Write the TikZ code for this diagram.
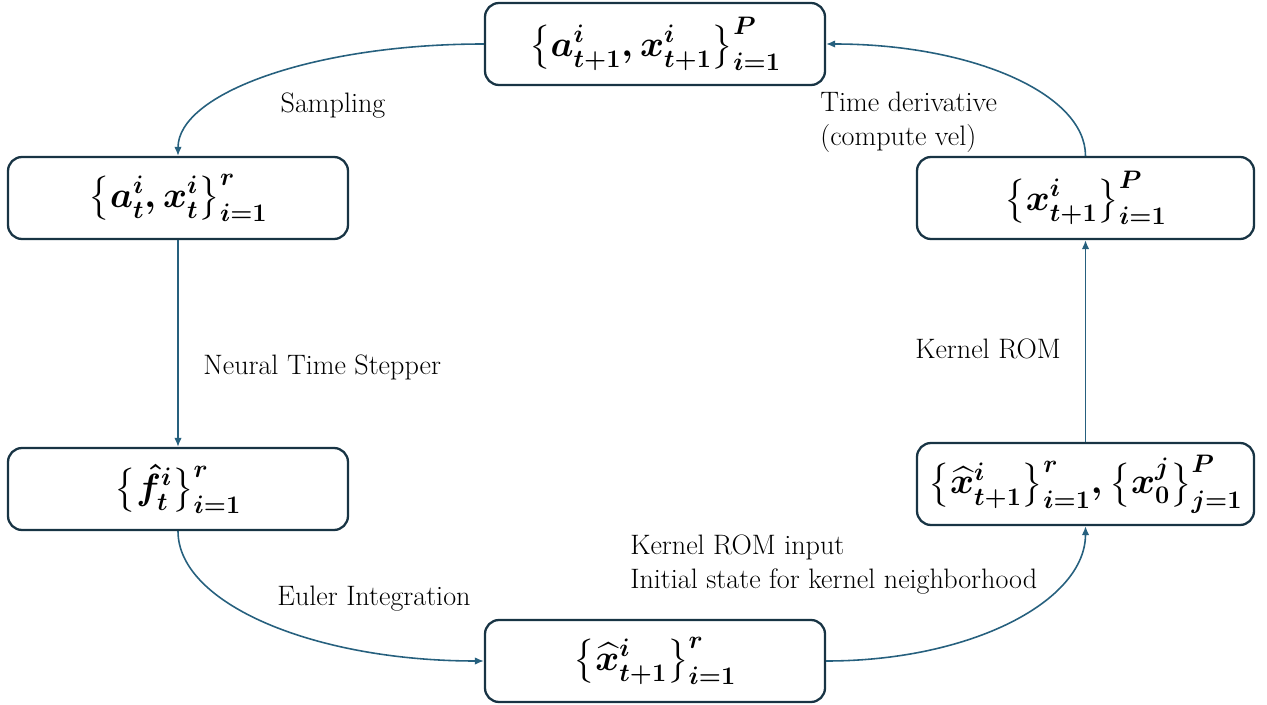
\documentclass[tikz,border=0pt]{standalone}
\usepackage{amssymb}
\usepackage{amsmath}
\usepackage{tikz}
\usetikzlibrary{arrows.meta}
\definecolor{boxline}{RGB}{24,52,68}
\definecolor{flowline}{RGB}{38,96,126}
\tikzstyle{state}=[draw=boxline, line width=1.3pt, rounded corners=8pt, minimum width=6.8cm, minimum height=1.64cm, font=\fontsize{21}{25}\selectfont\boldmath]
\tikzstyle{note}=[font=\fontsize{16}{19.5}\selectfont, align=left, inner sep=0pt]
\tikzstyle{arrow}=[draw=flowline, line width=0.9pt, -{Latex[length=1.8mm, width=1.5mm]}]

\begin{document}
\begin{tikzpicture}
		   \useasboundingbox (0, 0) rectangle (25.34, 14.08);
		   \begin{scope}
			   \node (1) at (13.1, 13.2)[state] {$\bigl\{a^{i}_{t+1}, x^{i}_{t+1}\bigr\}^{P}_{i=1}$};
			   \node (2) at (3.56, 10.12)[state] {$\bigl\{a^{i}_{t}, x^{i}_{t}\bigr\}^{r}_{i=1}$};
			   \node (3) at (3.56, 4.3)[state] {$\bigl\{\hat{f}^{i}_{t}\bigr\}^{r}_{i=1}$};
			   \node (4) at (13.1, 0.86)[state] {$\bigl\{\widehat{x}^{i}_{t+1}\bigr\}^{r}_{i=1}$};
			   \node (5) at (21.71, 4.4)[state, minimum width=6.74cm] {$\bigl\{\widehat{x}^{i}_{t+1}\bigr\}^{r}_{i=1}, \bigl\{x^{j}_{0}\bigr\}^{P}_{j=1}$};
			   \node (6) at (21.71, 10.12)[state, minimum width=6.74cm] {$\bigl\{x^{i}_{t+1}\bigr\}^{P}_{i=1}$};
		   \end{scope}
		   \begin{scope}
			   \node (s) at (6.66, 11.96)[note] {Sampling};
			   \node (n) at (4.06, 6.74)[note, anchor=west] {Neural Time Stepper};
			   \node (e) at (5.54, 2.1)[note, anchor=west] {Euler Integration};
			   \node (k) at (12.6, 2.79)[note, anchor=west] {Kernel ROM input\\Initial state for kernel neighborhood};
			   \node (r) at (18.3, 7.1)[note, anchor=west] {Kernel ROM};
			   \node (d) at (16.4, 11.63)[note, anchor=west] {Time derivative\\(compute vel)};
		   \end{scope}
		   \begin{scope}
			   \path (1.west) edge[arrow, out=180, in=90, out distance=3.4cm, in distance=1.25cm] (2.north);
			   \path (2.south) edge[arrow] (3.north);
			   \path (3.south) edge[arrow, out=-90, in=180, out distance=1.45cm, in distance=3.4cm] (4.west);
			   \path (4.east) edge[arrow, out=0, in=-90, out distance=2.9cm, in distance=1.5cm] (5.south);
			   \path (5.north) edge[arrow] (6.south);
			   \path (6.north) edge[arrow, out=90, in=0, out distance=1.25cm, in distance=2.9cm] (1.east);
		   \end{scope}
	   \end{tikzpicture}
\end{document}
